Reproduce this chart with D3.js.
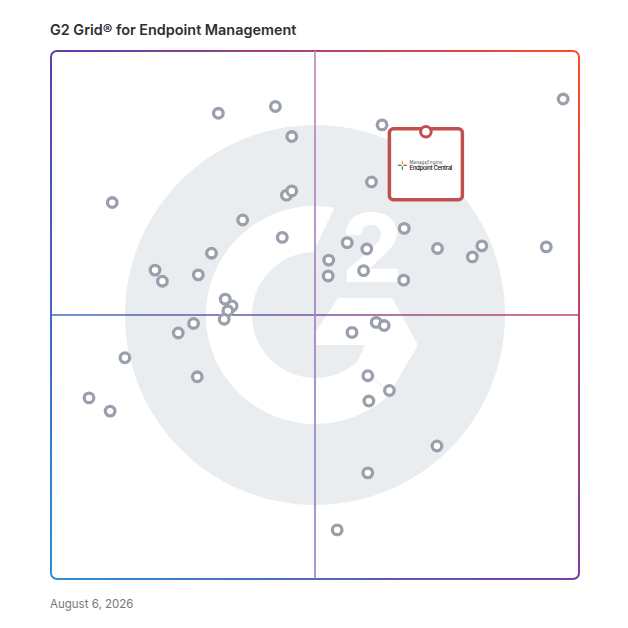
<!DOCTYPE html>
<html>
<head>
<meta charset="utf-8">
<script src="https://cdn.jsdelivr.net/npm/d3@7"></script>
<style>
  body { margin: 0; background: #fff; }
</style>
</head>
<body>
<div id="grid"></div>
<script>
var chartTitle = "G2 Grid® for Endpoint Management";
var dateLabel = "August 6, 2026";

// satisfaction (x) and market presence (y) for each product, on a 0-100 scale
var satisfaction = [31.7, 42.5, 45.6, 11.6, 44.6, 45.6, 36.3, 43.8, 30.4, 19.7,
  21.1, 27.9, 33.0, 34.3, 33.5, 32.8, 27.0, 24.1, 14.0, 27.7,
  7.2, 11.2, 62.7, 60.7, 66.9, 56.1, 59.8, 73.2, 81.6, 79.8,
  93.8, 97.0, 52.6, 52.5, 59.2, 66.8, 61.6, 63.1, 57.0, 60.0,
  64.1, 60.2, 73.1, 60.0, 54.2];
var marketPresence = [88.2, 89.5, 83.8, 71.3, 72.7, 73.5, 68.0, 64.7, 61.7, 58.5,
  56.4, 57.6, 53.0, 51.7, 50.8, 49.2, 48.4, 46.6, 41.9, 38.3,
  34.3, 31.8, 86.0, 75.2, 66.4, 63.7, 62.5, 62.6, 63.1, 61.0,
  62.9, 90.9, 60.4, 57.4, 58.4, 56.6, 48.6, 48.0, 46.7, 38.5,
  35.7, 33.7, 25.2, 20.1, 9.3];

// highlighted product
var featuredVendor = "ManageEngine";
var featuredProduct = "Endpoint Central";
var featuredSatisfaction = 71.0;
var featuredPresence = 84.7;

var svgWidth = 628;
var svgHeight = 628;
var grid = { left: 51, top: 51, size: 528 };

var svg = d3.select("#grid")
  .append("svg")
  .attr("width", svgWidth)
  .attr("height", svgHeight);

var xScale = d3.scaleLinear()
  .domain([0, 100])
  .range([grid.left, grid.left + grid.size]);

var yScale = d3.scaleLinear()
  .domain([0, 100])
  .range([grid.top + grid.size, grid.top]);

var defs = svg.append("defs");

function addGradient(id, x1, y1, x2, y2, colors) {
  var g = defs.append("linearGradient")
    .attr("id", id)
    .attr("gradientUnits", "userSpaceOnUse")
    .attr("x1", x1).attr("y1", y1)
    .attr("x2", x2).attr("y2", y2);
  colors.forEach(function(c, i) {
    g.append("stop")
      .attr("offset", i / (colors.length - 1))
      .attr("stop-color", c);
  });
}

var L = xScale(0), R = xScale(100), T = yScale(100), B = yScale(0);
var cTL = "#5a3db5", cTR = "#ff4b28", cBL = "#2a8fd8", cBR = "#7a3d9e";

addGradient("gTop", L, T, R, T, [cTL, cTR]);
addGradient("gRight", R, T, R, B, [cTR, cBR]);
addGradient("gBottom", L, B, R, B, [cBL, cBR]);
addGradient("gLeft", L, T, L, B, [cTL, cBL]);
addGradient("gHoriz", L, 0, R, 0, ["#3f6cc4", "#7b4f9c", "#c8445a"]);
addGradient("gVert", 0, T, 0, B, ["#c48bb8", "#a07fc0", "#8c8ad2"]);

// title
svg.append("text")
  .attr("x", 50)
  .attr("y", 35)
  .attr("font-family", "Inter, 'Noto Sans', sans-serif")
  .attr("font-size", 14.4)
  .attr("font-weight", 600)
  .attr("fill", "#2e2e33")
  .text(chartTitle);

// watermark G2 logo
var cx = xScale(50), cy = yScale(50);
var wm = svg.append("g");
wm.append("circle")
  .attr("cx", cx).attr("cy", cy)
  .attr("r", 190)
  .attr("fill", "#eaedf0");

var rad = Math.PI / 180;
var Ro = 109, Ri = 63;
var ring = d3.path();
ring.moveTo(cx + Ro * Math.cos(47 * rad), cy + Ro * Math.sin(47 * rad));
ring.arc(cx, cy, Ro, 47 * rad, 280.3 * rad, false);
ring.lineTo(cx + Ri * Math.cos(268.2 * rad), cy + Ri * Math.sin(268.2 * rad));
ring.arc(cx, cy, Ri, 268.2 * rad, 48 * rad, true);
ring.closePath();
wm.append("path").attr("d", ring.toString()).attr("fill", "#fff");

var chevron = [[23, -17], [77, -17], [103, 30], [75, 78], [42, 47], [50, 30], [0, 30], [0, 18]];
wm.append("polygon")
  .attr("points", chevron.map(function(p) { return (cx + p[0]) + "," + (cy + p[1]); }).join(" "))
  .attr("fill", "#fff");

wm.append("text")
  .attr("x", cx + 57)
  .attr("y", cy - 33)
  .attr("text-anchor", "middle")
  .attr("font-family", "Inter, 'Noto Sans', sans-serif")
  .attr("font-size", 95)
  .attr("font-weight", 800)
  .attr("fill", "#fff")
  .text("2");

// frame, one path per edge so each gets its own gradient
var r = 6;
var edges = [
  ["gTop", `M${L},${T + r} A${r},${r} 0 0 1 ${L + r},${T} H${R - r} A${r},${r} 0 0 1 ${R},${T + r}`],
  ["gRight", `M${R},${T + r} V${B - r} A${r},${r} 0 0 1 ${R - r},${B}`],
  ["gBottom", `M${R - r},${B} H${L + r} A${r},${r} 0 0 1 ${L},${B - r}`],
  ["gLeft", `M${L},${B - r} V${T + r}`]
];
svg.selectAll(".edge")
  .data(edges)
  .enter()
  .append("path")
  .attr("class", "edge")
  .attr("d", d => d[1])
  .attr("fill", "none")
  .attr("stroke", d => `url(#${d[0]})`)
  .attr("stroke-width", 2);

// quadrant lines
svg.append("line")
  .attr("x1", L).attr("x2", R)
  .attr("y1", yScale(50)).attr("y2", yScale(50))
  .attr("stroke", "url(#gHoriz)")
  .attr("stroke-width", 1.7);
svg.append("line")
  .attr("x1", xScale(50)).attr("x2", xScale(50))
  .attr("y1", T).attr("y2", B)
  .attr("stroke", "url(#gVert)")
  .attr("stroke-width", 1.7);

// products
var products = satisfaction.map(function(s, i) {
  return { x: s, y: marketPresence[i] };
});
svg.selectAll(".product")
  .data(products)
  .enter()
  .append("circle")
  .attr("class", "product")
  .attr("cx", d => xScale(d.x))
  .attr("cy", d => yScale(d.y))
  .attr("r", 4.8)
  .attr("fill", "#fff")
  .attr("stroke", "#9aa0ab")
  .attr("stroke-width", 3.3);

// featured product box
var fx = xScale(featuredSatisfaction), fy = yScale(featuredPresence);
var red = "#c0504f";
var box = svg.append("g");
box.append("rect")
  .attr("x", fx - 36.5)
  .attr("y", fy - 3)
  .attr("width", 73)
  .attr("height", 71)
  .attr("rx", 4)
  .attr("fill", "#fff")
  .attr("stroke", red)
  .attr("stroke-width", 3.5);
box.append("circle")
  .attr("cx", fx).attr("cy", fy)
  .attr("r", 5.3)
  .attr("fill", "#fff")
  .attr("stroke", red)
  .attr("stroke-width", 3);

// little logo mark
var ix = fx - 23.5, iy = fy + 33.5;
var spokes = [[0, -1, "#f2a20c"], [1, 0, "#e8412d"], [0, 1, "#2a9a4a"], [-1, 0, "#2a7ad0"]];
spokes.forEach(function(s) {
  box.append("line")
    .attr("x1", ix + s[0] * 1).attr("y1", iy + s[1] * 1)
    .attr("x2", ix + s[0] * 4.5).attr("y2", iy + s[1] * 4.5)
    .attr("stroke", s[2])
    .attr("stroke-width", 1.3);
});
box.append("text")
  .attr("x", fx - 16.5)
  .attr("y", fy + 32)
  .attr("font-family", "Inter, 'Noto Sans', sans-serif")
  .attr("font-size", 4.2)
  .attr("textLength", 33)
  .attr("fill", "#444")
  .text(featuredVendor);
box.append("text")
  .attr("x", fx - 16.5)
  .attr("y", fy + 38.5)
  .attr("font-family", "Inter, 'Noto Sans', sans-serif")
  .attr("font-size", 6.2)
  .attr("font-weight", 500)
  .attr("textLength", 43)
  .attr("fill", "#111")
  .text(featuredProduct);

// date
svg.append("text")
  .attr("x", 50)
  .attr("y", 608)
  .attr("font-family", "Inter, 'Noto Sans', sans-serif")
  .attr("font-size", 11.5)
  .attr("fill", "#76767c")
  .text(dateLabel);
</script>
</body>
</html>
